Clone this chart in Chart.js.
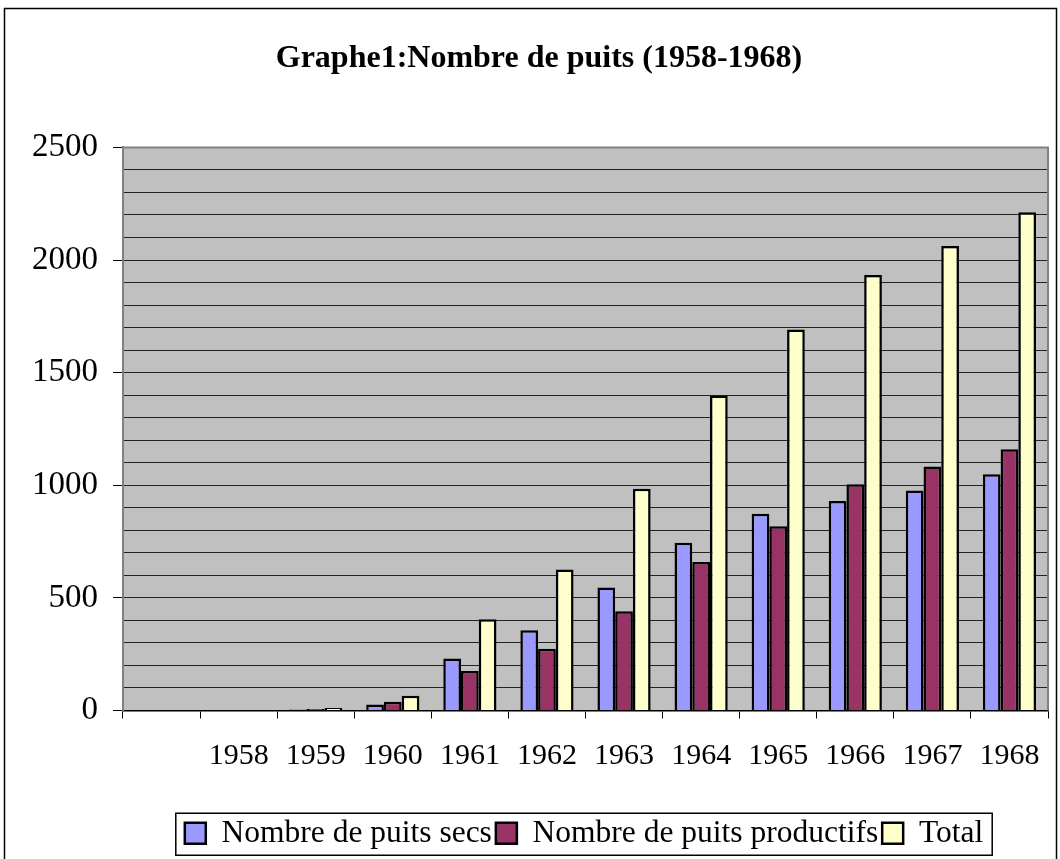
<!DOCTYPE html>
<html>
<head>
<meta charset="utf-8">
<script src="https://cdn.jsdelivr.net/npm/chart.js@4/dist/chart.umd.min.js"></script>
<style>
  body { margin: 0; background: #fff; }
  #wrap { width: 1060px; height: 859px; }
</style>
</head>
<body>
<div id="wrap"><canvas id="myChart"></canvas></div>
<script>
// categories (first slot is empty in the original sheet)
const years = ['', '1958', '1959', '1960', '1961', '1962', '1963', '1964', '1965', '1966', '1967', '1968'];
const puitsSecs = [null, null, 4, 27, 231, 356, 546, 745, 874, 930, 977, 1049];
const puitsProductifs = [null, null, 7, 39, 175, 274, 441, 659, 818, 1005, 1083, 1160];
const total = [null, null, 11, 66, 405, 626, 985, 1398, 1692, 1933, 2062, 2212];
const yMajor = 500;

const serif = 'Liberation Serif, Times New Roman, serif';
const legendShift = 55;
const titleShift = 10;

// grey plot area, outer frame and the boxed legend like the Excel original
const excelLook = {
  id: 'excelLook',
  afterLayout(chart) {
    const lg = chart.legend;
    lg.left += legendShift;
    lg.right += legendShift;
    const tb = chart.titleBlock;
    tb.left += titleShift;
    tb.right += titleShift;
  },
  beforeDraw(chart) {
    const c = chart.ctx;
    const a = chart.chartArea;
    c.save();
    c.fillStyle = '#fff';
    c.fillRect(0, 0, chart.width, chart.height);
    c.strokeStyle = '#000';
    c.lineWidth = 1.5;
    c.strokeRect(4.5, 8.5, chart.width - 8, chart.height + 40);
    c.fillStyle = '#c0c0c0';
    c.fillRect(a.left, a.top, a.right - a.left, a.bottom - a.top);
    c.restore();
  },
  afterDraw(chart) {
    const c = chart.ctx;
    const a = chart.chartArea;
    c.save();
    c.strokeStyle = '#808080';
    c.lineWidth = 2;
    c.beginPath();
    c.moveTo(a.left, a.top);
    c.lineTo(a.right, a.top);
    c.lineTo(a.right, a.bottom);
    c.stroke();
    const boxes = chart.legend.legendHitBoxes;
    if (boxes && boxes.length) {
      const first = boxes[0];
      const last = boxes[boxes.length - 1];
      const mid = first.top + first.height / 2;
      c.strokeStyle = '#000';
      c.lineWidth = 1.5;
      c.strokeRect(first.left - 9, mid - 20, last.left + last.width - first.left + 18, 42);
    }
    c.restore();
  }
};

new Chart(document.getElementById('myChart'), {
  type: 'bar',
  data: {
    labels: years,
    datasets: [
      { label: 'Nombre de puits secs', data: puitsSecs, backgroundColor: '#9999ff', borderColor: '#000', borderWidth: 2.5 },
      { label: 'Nombre de puits productifs', data: puitsProductifs, backgroundColor: '#993366', borderColor: '#000', borderWidth: 2.5 },
      { label: 'Total', data: total, backgroundColor: '#ffffcc', borderColor: '#000', borderWidth: 2.5 }
    ]
  },
  options: {
    responsive: true,
    maintainAspectRatio: false,
    animation: false,
    datasets: { bar: { categoryPercentage: 0.69, barPercentage: 1.0 } },
    layout: { padding: { left: 10, right: 12, top: 0, bottom: 0 } },
    scales: {
      x: {
        afterFit: (scale) => { scale.height = 103; },
        grid: { offset: true, drawOnChartArea: false, tickLength: 8, color: '#000' },
        border: { color: '#000', width: 1.5 },
        ticks: { color: '#000', padding: 20, maxRotation: 0, font: { family: serif, size: 30 } }
      },
      y: {
        min: 0,
        max: 2500,
        afterFit: (scale) => { scale.width = 113; },
        grid: {
          color: '#222',
          lineWidth: 1,
          tickLength: 10,
          tickColor: (ctx) => (ctx.tick && ctx.tick.value % yMajor === 0 ? '#000' : 'rgba(0,0,0,0)')
        },
        border: { color: '#808080', width: 2 },
        ticks: {
          stepSize: 100,
          autoSkip: false,
          color: '#000',
          padding: 15,
          font: { family: serif, size: 33 },
          callback: (v) => (v % yMajor === 0 ? v : '')
        }
      }
    },
    plugins: {
      title: {
        display: true,
        text: 'Graphe1:Nombre de puits (1958-1968)',
        color: '#000',
        font: { family: serif, size: 32, weight: 'bold' },
        padding: { top: 40, bottom: 69 }
      },
      legend: {
        position: 'bottom',
        labels: { color: '#000', boxWidth: 21, boxHeight: 21, padding: 4, font: { family: serif, size: 31.5 } }
      },
      tooltip: { enabled: false }
    }
  },
  plugins: [excelLook]
});
</script>
</body>
</html>
